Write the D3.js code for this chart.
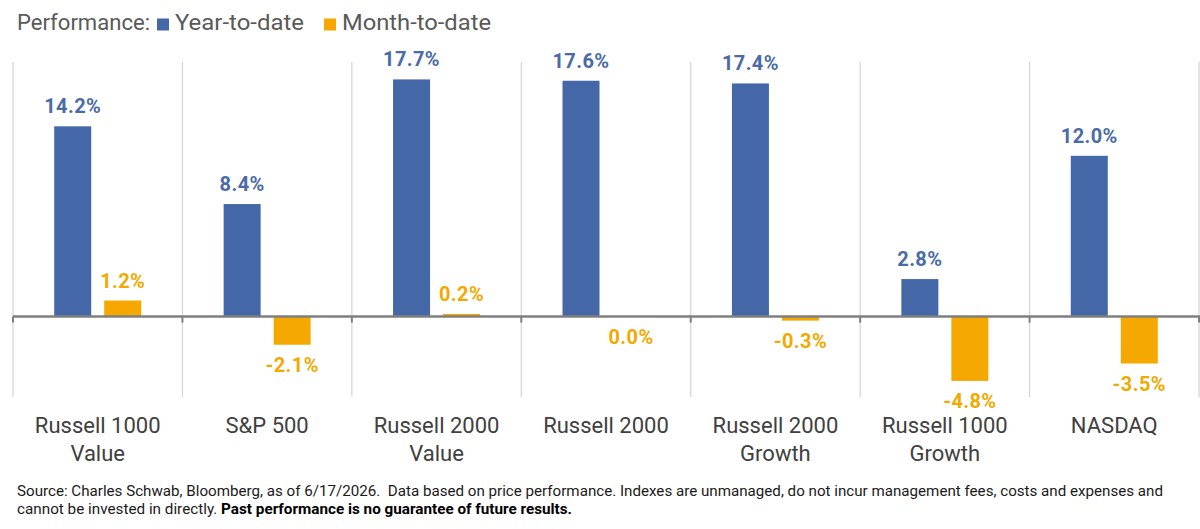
<!DOCTYPE html>
<html>
<head>
<meta charset="utf-8">
<script src="https://cdn.jsdelivr.net/npm/d3@7"></script>
<style>
  html, body { margin: 0; padding: 0; background: #fff; }
  svg { display: block; }
</style>
</head>
<body>
<svg id="chart" width="1200" height="529"></svg>
<script>
const categories = [
  ["Russell 1000", "Value"],
  ["S&P 500"],
  ["Russell 2000", "Value"],
  ["Russell 2000"],
  ["Russell 2000", "Growth"],
  ["Russell 1000", "Growth"],
  ["NASDAQ"]
];
const ytdValues = [14.2, 8.4, 17.7, 17.6, 17.4, 2.8, 12.0];
const mtdValues = [1.2, -2.1, 0.2, 0.0, -0.3, -4.8, -3.5];
const seriesNames = ["Year-to-date", "Month-to-date"];
const seriesKeys = ["ytd", "mtd"];

(function () {
const colors = { ytd: "#4467A8", mtd: "#F5A800" };
const labelColors = { ytd: "#4A6BA6", mtd: "#F2A900" };

const svg = d3.select("#chart");
const plotLeft = 13, plotRight = 1199, plotTop = 62, plotBottom = 397;

const data = categories.map((c, i) => ({ idx: i, name: c, ytd: ytdValues[i], mtd: mtdValues[i] }));

const x0 = d3.scaleBand().domain(d3.range(categories.length)).range([plotLeft, plotRight]).padding(0);
const x1 = d3.scaleBand().domain(seriesKeys).range([0, x0.bandwidth()]).paddingInner(0.26).paddingOuter(0.824);
const y = d3.scaleLinear().domain([-6, 19]).range([plotBottom, plotTop]);

// separators
const seps = d3.range(categories.length + 1).map(i => plotLeft + i * x0.step());
svg.append("g").selectAll("line").data(seps).join("line")
  .attr("x1", d => d).attr("x2", d => d)
  .attr("y1", plotTop).attr("y2", plotBottom)
  .attr("stroke", "#d4d4d4").attr("stroke-width", 1.2);

// bars
const groups = svg.append("g").selectAll("g").data(data).join("g")
  .attr("transform", d => `translate(${x0(d.idx)},0)`);

groups.selectAll("rect").data(d => seriesKeys.map(k => ({ key: k, value: d[k] }))).join("rect")
  .attr("x", d => x1(d.key))
  .attr("width", x1.bandwidth())
  .attr("y", d => y(Math.max(0, d.value)))
  .attr("height", d => Math.abs(y(d.value) - y(0)))
  .attr("fill", d => colors[d.key]);

// zero axis
svg.append("line")
  .attr("x1", plotLeft).attr("x2", plotRight + 1)
  .attr("y1", y(0)).attr("y2", y(0))
  .attr("stroke", "#7f7f7f").attr("stroke-width", 2.5);
svg.append("g").selectAll("line").data(seps).join("line")
  .attr("x1", d => d).attr("x2", d => d)
  .attr("y1", y(0)).attr("y2", y(0) + 6)
  .attr("stroke", "#7f7f7f").attr("stroke-width", 2);

// value labels
groups.selectAll("text.val").data(d => seriesKeys.map(k => ({ key: k, value: d[k] }))).join("text")
  .attr("class", "val")
  .attr("x", d => x1(d.key) + x1.bandwidth() / 2)
  .attr("y", d => d.value > 0 ? y(d.value) - 13 : y(Math.min(0, d.value)) + 27)
  .attr("text-anchor", "middle")
  .attr("font-family", "Roboto, sans-serif")
  .attr("font-weight", "bold")
  .attr("font-size", 20)
  .attr("letter-spacing", 0.4)
  .attr("fill", d => labelColors[d.key])
  .text(d => d.value.toFixed(1) + "%");

// category labels
const catText = svg.append("g").selectAll("text").data(data).join("text")
  .attr("x", d => x0(d.idx) + x0.bandwidth() / 2)
  .attr("y", 433)
  .attr("text-anchor", "middle")
  .attr("font-family", "Roboto, sans-serif")
  .attr("font-size", 22)
  .attr("fill", "#404040");
catText.selectAll("tspan").data(d => d.name).join("tspan")
  .attr("x", function() { return d3.select(this.parentNode).attr("x"); })
  .attr("dy", (d, i) => i === 0 ? 0 : 28)
  .text(d => d);

// title / legend
const fontT = "Roboto, sans-serif";
svg.append("text").attr("x", 17).attr("y", 30)
  .attr("font-family", fontT).attr("font-size", 21.5).attr("fill", "#595959")
  .attr("textLength", 133).attr("lengthAdjust", "spacingAndGlyphs")
  .text("Performance:");
const legendX = [157, 324];
const legendLen = [129, 149];
seriesKeys.forEach((k, i) => {
  svg.append("rect").attr("x", legendX[i]).attr("y", 18.5).attr("width", 12).attr("height", 12)
    .attr("fill", colors[k]);
  svg.append("text").attr("x", legendX[i] + 18).attr("y", 30)
    .attr("font-family", fontT).attr("font-size", 21.5).attr("fill", "#595959")
    .attr("textLength", legendLen[i]).attr("lengthAdjust", "spacingAndGlyphs")
    .text(seriesNames[i]);
});

// footnote
const foot1 = "Source: Charles Schwab, Bloomberg, as of 6/17/2026.  Data based on price performance. Indexes are unmanaged, do not incur management fees, costs and expenses and";
svg.append("text").attr("x", 17).attr("y", 496)
  .attr("font-family", fontT).attr("font-size", 15).attr("fill", "#1a1a1a")
  .attr("textLength", 1146).attr("lengthAdjust", "spacingAndGlyphs")
  .style("white-space", "pre")
  .text(foot1);
const f2 = svg.append("text").attr("x", 17).attr("y", 514)
  .attr("font-family", fontT).attr("font-size", 15).attr("fill", "#1a1a1a")
  .attr("textLength", 555).attr("lengthAdjust", "spacingAndGlyphs");
f2.append("tspan").text("cannot be invested in directly. ");
f2.append("tspan").attr("font-weight", "bold").attr("fill", "#000").text("Past performance is no guarantee of future results.");
})();
</script>
</body>
</html>
